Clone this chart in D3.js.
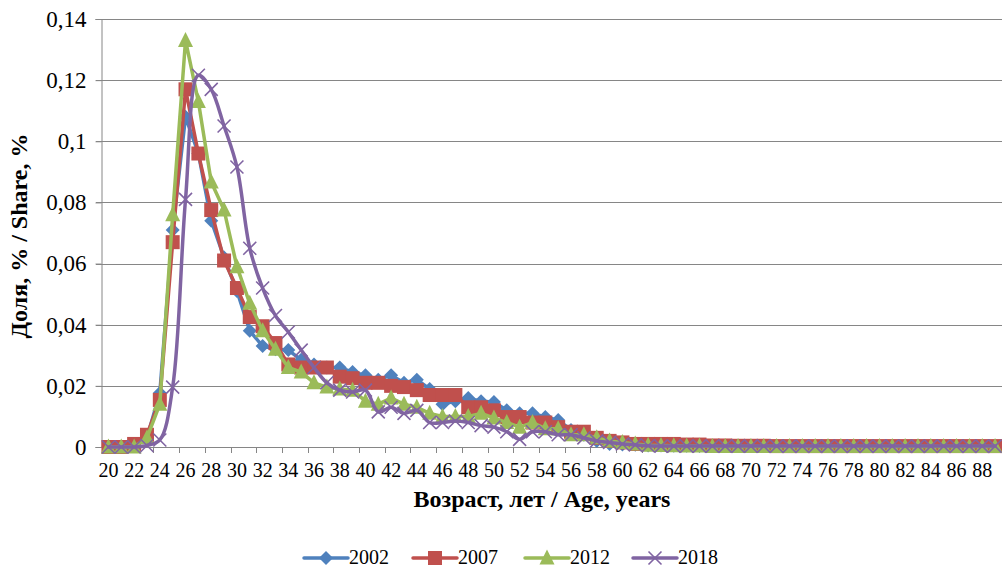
<!DOCTYPE html>
<html><head><meta charset="utf-8">
<script src="https://cdn.jsdelivr.net/npm/d3@7"></script>
<style>body{margin:0;background:#fff}svg{display:block}text{font-family:"Liberation Serif","Times New Roman",serif}</style>
</head><body>
<svg id="c" width="1002" height="569"></svg>
<script>
const ages = d3.range(20, 90);
const years = ["2002", "2007", "2012", "2018"];
const yTicks = [0, 0.02, 0.04, 0.06, 0.08, 0.1, 0.12, 0.14];
const s2002 = [0,0,0.0005,0.003,0.0177,0.071,0.108,0.096,0.074,0.062,0.051,0.038,0.033,0.032,0.0317,0.0285,0.027,0.026,0.026,0.0245,0.0235,0.022,0.0235,0.021,0.022,0.019,0.014,0.015,0.016,0.015,0.0147,0.012,0.011,0.011,0.0098,0.0088,0.0056,0.004,0.002,0.001,0.0008,0.0007,0.0005,0.0005,0.0004,0.0004,0.0003,0.0003,0.0003,0.0003,0.0003,0.0003,0.0003,0.0003,0.0003,0.0003,0.0003,0.0003,0.0003,0.0003,0.0003,0.0003,0.0003,0.0003,0.0003,0.0003,0.0003,0.0003,0.0003,0.0003];
const s2007 = [0,0,0.001,0.004,0.0154,0.067,0.117,0.096,0.0775,0.061,0.052,0.0425,0.0395,0.034,0.027,0.026,0.026,0.026,0.023,0.0225,0.021,0.021,0.020,0.0196,0.0186,0.017,0.017,0.017,0.013,0.013,0.012,0.0098,0.0098,0.008,0.008,0.0065,0.005,0.005,0.003,0.002,0.0015,0.001,0.001,0.001,0.001,0.0008,0.0008,0.0005,0.0005,0.0004,0.0004,0.0004,0.0003,0.0003,0.0003,0.0003,0.0003,0.0003,0.0003,0.0003,0.0003,0.0003,0.0003,0.0003,0.0003,0.0003,0.0003,0.0003,0.0003,0.0003];
const s2012 = [0,0,0,0.003,0.014,0.076,0.133,0.113,0.0867,0.0775,0.059,0.047,0.038,0.032,0.026,0.0245,0.021,0.0196,0.019,0.0186,0.015,0.014,0.016,0.014,0.013,0.011,0.010,0.010,0.010,0.011,0.0095,0.008,0.0065,0.008,0.006,0.006,0.004,0.004,0.003,0.002,0.0015,0.001,0.0006,0.0005,0.0004,0.0003,0.0003,0.0002,0.0002,0.0002,0.0002,0.0002,0.0002,0.0002,0.0002,0.0002,0.0002,0.0002,0.0002,0.0002,0.0002,0.0002,0.0002,0.0002,0.0002,0.0002,0.0002,0.0002,0.0002,0.0002];
const s2018 = [0,0,0,0.0005,0.0023,0.0196,0.081,0.1216,0.117,0.105,0.0916,0.065,0.052,0.043,0.0376,0.0317,0.026,0.021,0.0186,0.018,0.0186,0.0115,0.013,0.011,0.012,0.008,0.008,0.0085,0.008,0.007,0.0065,0.005,0.0025,0.005,0.005,0.004,0.004,0.003,0.002,0.0015,0.001,0.0007,0.0004,0.0003,0.0003,0.0003,0.0003,0.0003,0.0003,0.0003,0.0003,0.0003,0.0003,0.0003,0.0003,0.0003,0.0003,0.0003,0.0003,0.0003,0.0003,0.0003,0.0003,0.0003,0.0003,0.0003,0.0003,0.0003,0.0003,0.0003];
const seriesValues = [s2002, s2007, s2012, s2018];
const colors = ["#4F81BD", "#C0504D", "#9BBB59", "#8064A2"];
const markers = ["diamond", "square", "triangle", "x"];

const svg = d3.select("#c");
const x = d3.scaleBand().domain(ages).range([102, 1001.5]).padding(0);
const y = d3.scaleLinear().domain([0, 0.14]).range([447, 19]);
const fmt = v => v === 0 ? "0" : String(+v.toFixed(2)).replace(".", ",");

// gridlines
svg.append("g").selectAll("line").data(yTicks.filter(t => t > 0)).join("line")
  .attr("x1", 96).attr("x2", 1002).attr("y1", d => Math.round(y(d)) + 0.5).attr("y2", d => Math.round(y(d)) + 0.5)
  .attr("stroke", "#868686").attr("stroke-width", 1);

// y axis
const yAxis = svg.append("g").attr("transform", "translate(101.5,0)")
  .call(d3.axisLeft(y).tickValues(yTicks).tickFormat(fmt).tickSize(6).tickPadding(9));
yAxis.select(".domain").attr("stroke", "#868686");
yAxis.selectAll(".tick line").attr("stroke", "#868686");
yAxis.selectAll("text").attr("font-size", 23).attr("fill", "#000").attr("font-family", "Liberation Serif");

// x axis
const xg = svg.append("g");
xg.append("line").attr("x1", 96).attr("x2", 1002).attr("y1", 447.5).attr("y2", 447.5).attr("stroke", "#868686");
const evenAges = ages.filter(a => a % 2 === 0);
xg.selectAll("line.t").data(evenAges.concat([90])).join("line").attr("class", "t")
  .attr("x1", d => d === 90 ? 1001.5 : Math.round(x(d)) + 0.5).attr("x2", d => d === 90 ? 1001.5 : Math.round(x(d)) + 0.5)
  .attr("y1", 447).attr("y2", 453).attr("stroke", "#868686");
xg.selectAll("text").data(evenAges).join("text")
  .attr("x", d => x(d) + x.bandwidth() / 2).attr("y", 477)
  .attr("text-anchor", "middle").attr("font-size", 20).text(d => d);

// axis titles
svg.append("text").attr("x", 542).attr("y", 507).attr("text-anchor", "middle")
  .attr("font-size", 24).attr("font-weight", "bold").text("Возраст, лет / Age, years");
svg.append("text").attr("transform", "translate(27,236) rotate(-90)").attr("text-anchor", "middle")
  .attr("font-size", 24).attr("font-weight", "bold").text("Доля, % / Share, %");

function drawMarker(g, type, cx, cy, color) {
  if (type === "diamond") {
    g.append("path").attr("d", `M${cx},${cy-7}L${cx+7},${cy}L${cx},${cy+7}L${cx-7},${cy}Z`).attr("fill", color);
  } else if (type === "square") {
    g.append("rect").attr("x", cx - 7).attr("y", cy - 7).attr("width", 14).attr("height", 14).attr("fill", color);
  } else if (type === "triangle") {
    g.append("path").attr("d", `M${cx},${cy-8.5}L${cx+7.5},${cy+6.5}L${cx-7.5},${cy+6.5}Z`).attr("fill", color);
  } else {
    g.append("path").attr("d", `M${cx-6.5},${cy-6.5}L${cx+6.5},${cy+6.5}M${cx+6.5},${cy-6.5}L${cx-6.5},${cy+6.5}`)
      .attr("stroke", color).attr("stroke-width", 1.6).attr("fill", "none");
  }
}

seriesValues.forEach((vals, i) => {
  const g = svg.append("g");
  const pts = ages.map((a, k) => [x(a) + x.bandwidth() / 2, y(vals[k])]);
  const line = d3.line().curve(i === 3 ? d3.curveCatmullRom.alpha(0.5) : d3.curveLinear);
  g.append("path").attr("d", line(pts)).attr("fill", "none").attr("stroke", colors[i])
    .attr("stroke-width", 3.5).attr("stroke-linejoin", "round").attr("stroke-linecap", "round");
  pts.forEach(p => drawMarker(g, markers[i], p[0], p[1], colors[i]));
});

// legend
const legX = [304, 413, 525, 633];
years.forEach((yr, i) => {
  const g = svg.append("g");
  g.append("line").attr("x1", legX[i]).attr("x2", legX[i] + 44).attr("y1", 558).attr("y2", 558)
    .attr("stroke", colors[i]).attr("stroke-width", 3.5).attr("stroke-linecap", "round");
  drawMarker(g, markers[i], legX[i] + 22, 558, colors[i]);
  g.append("text").attr("x", legX[i] + 45).attr("y", 564).attr("font-size", 20).text(yr);
});
</script>
</body></html>
